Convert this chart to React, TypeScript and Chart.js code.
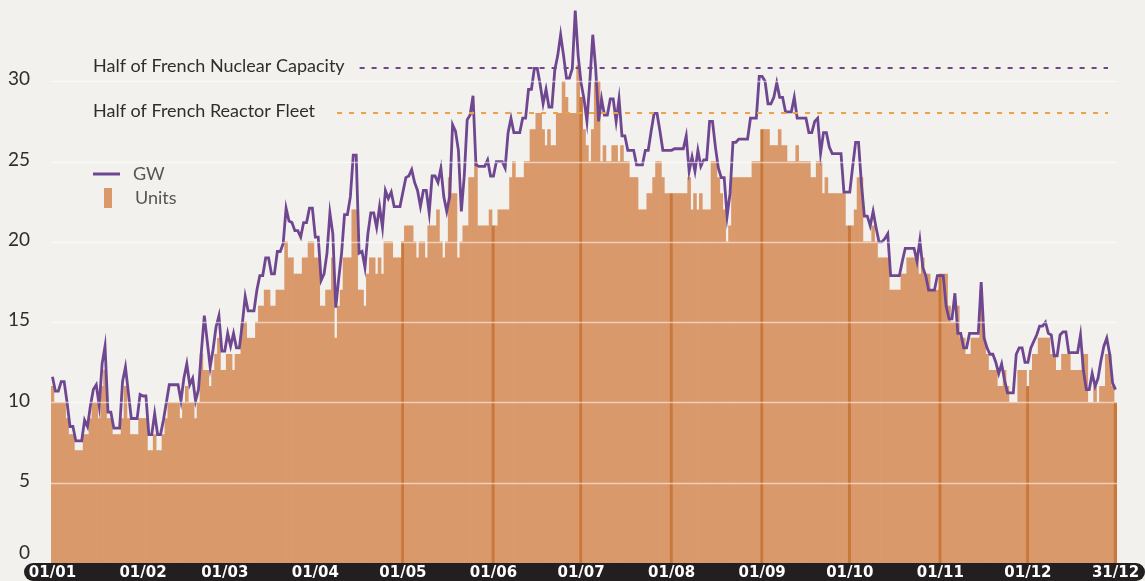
import React, { useEffect, useRef } from 'react';
import { Chart, registerables } from 'chart.js';

Chart.register(...registerables);

// ---- Data ----
const monthLengths = [31, 28, 31, 30, 31, 30, 31, 31, 30, 31, 30, 31];

const unitsJan = [11,10,10,10,10,9,8,8,7,7,7,8,8,9,10,10,9,11,12,9,9,8,8,8,9,11,9,8,8,8,9];
const unitsFeb = [9,9,7,7,8,7,7,8,9,10,10,10,10,9,10,11,10,10,9,10,13,12,12,11,12,13,14,12];
const unitsMar = [12,13,13,12,13,13,15,15,14,14,14,15,16,16,17,17,16,16,17,17,17,20,19,19,18,18,18,19,19,20,20];
const unitsApr = [19,19,16,16,17,17,19,14,16,17,19,19,19,22,22,17,17,16,18,19,19,18,19,18,20,20,20,19,19,19];
const unitsMay = [20,21,21,21,20,19,20,20,19,21,21,21,22,20,19,20,24,23,23,19,20,21,21,24,24,25,21,21,21,21,22];
const unitsJun = [21,21,22,22,22,22,24,25,24,24,24,25,25,27,27,28,28,27,26,27,26,26,28,28,30,29,28,28,28,31];
const unitsJul = [29,27,26,25,27,30,30,25,26,25,25,26,26,25,26,25,25,24,24,24,22,22,22,23,23,24,25,25,24,23,23];
const unitsAug = [23,23,23,23,23,23,24,22,23,22,23,22,22,22,25,25,24,23,22,20,21,24,24,24,24,24,24,24,25,25,25];
const unitsSep = [27,27,27,26,26,26,27,26,26,25,25,25,26,25,25,25,25,24,24,25,25,23,24,23,23,23,23,23,23,21];
const unitsOct = [21,21,22,24,24,20,20,20,21,20,19,19,19,19,17,17,17,17,18,18,19,19,19,19,18,19,18,18,17,17,17];
const unitsNov = [18,18,18,16,15,15,16,14,14,13,13,14,14,14,17,14,13,12,12,12,11,11,12,11,10,10,10,12,12,12];
const unitsDec = [11,12,13,13,14,14,14,14,13,13,12,12,13,13,13,12,12,12,12,13,13,10,10,11,10,11,11,13,13,11,10];

const gwJan = [11.6,10.7,10.7,11.3,11.3,10.0,8.5,8.5,7.6,7.6,7.6,8.9,8.5,9.8,10.8,11.1,9.8,12.4,13.5,9.4,9.4,8.4,8.4,8.4,11.3,12.2,10.6,9.0,9.0,9.0,10.5];
const gwFeb = [10.4,10.4,8.0,8.0,9.3,8.0,8.0,8.9,10.0,11.1,11.1,11.1,11.1,10.1,11.5,12.4,11.1,11.5,10.1,10.8,13.2,15.4,13.8,12.2,13.3,14.7,15.4,13.2];
const gwMar = [13.2,14.3,13.5,14.3,13.4,13.4,14.9,16.6,15.7,15.7,15.7,17.0,17.9,17.9,19.0,19.0,18.0,18.0,19.4,19.4,19.9,22.1,21.3,21.2,20.7,20.7,20.3,21.2,21.2,22.1,22.1];
const gwApr = [20.3,20.3,17.6,18.0,19.3,21.8,20.5,15.9,17.7,19.3,21.7,21.7,22.8,25.4,25.4,19.3,19.4,18.4,20.5,21.8,21.8,20.9,22.2,20.9,23.2,22.7,23.1,22.2,22.2,22.2];
const gwMay = [23.1,24.0,24.1,24.5,23.7,23.2,22.2,23.2,23.2,21.8,24.1,24.1,23.7,24.6,22.8,21.9,22.8,27.3,26.9,25.7,21.9,24.1,27.6,27.9,29.1,24.8,24.7,24.7,24.7,25.1,24.1];
const gwJun = [24.1,25.0,25.0,25.0,24.6,26.8,27.7,26.8,26.8,26.8,27.7,27.7,29.5,29.5,30.8,30.8,29.8,28.6,29.5,28.4,28.4,30.7,31.6,32.9,31.6,30.2,30.2,30.8,34.4,31.6];
const gwJul = [29.9,28.9,27.5,30.0,32.9,30.8,27.5,28.9,27.9,27.9,28.9,28.9,27.5,28.9,26.6,26.6,25.7,25.7,25.7,24.8,24.8,24.8,25.7,25.7,26.9,28.0,28.0,26.9,25.7,25.7,25.7];
const gwAug = [25.7,25.8,25.8,25.8,25.8,26.6,24.4,25.3,24.4,25.7,24.7,25.1,25.1,27.5,27.5,25.9,24.6,24.0,24.0,21.6,23.0,26.2,26.2,26.4,26.4,26.4,26.4,27.7,27.7,27.7,30.3];
const gwSep = [30.3,30.0,28.6,28.6,29.0,29.9,29.0,29.0,28.1,28.1,28.1,29.0,27.7,27.7,27.7,27.7,26.8,26.8,27.5,27.7,25.5,26.8,26.8,25.9,25.5,25.5,25.5,25.5,23.1,23.1];
const gwOct = [23.1,24.7,26.2,26.2,23.6,21.6,21.6,21.0,21.9,20.9,20.0,20.0,20.2,20.5,17.9,17.9,17.9,17.9,18.8,19.6,19.6,19.6,19.6,18.8,20.1,18.4,17.9,17.0,17.0,17.0,17.9];
const gwNov = [17.9,17.9,16.0,15.2,15.2,16.8,14.3,14.3,13.4,13.4,14.3,14.3,14.3,14.3,17.5,14.0,13.4,13.0,13.0,12.5,11.8,12.4,11.4,10.6,10.6,10.6,13.0,13.4,13.4,12.5];
const gwDec = [12.5,13.4,13.8,14.2,14.75,14.75,15.0,14.3,14.2,12.9,12.9,14.2,14.4,14.4,13.1,13.1,13.1,13.1,14.2,12.0,10.8,10.8,11.8,11.0,11.5,12.6,13.5,14.0,13.0,11.2,10.8];

const units = [...unitsJan, ...unitsFeb, ...unitsMar, ...unitsApr, ...unitsMay, ...unitsJun,
  ...unitsJul, ...unitsAug, ...unitsSep, ...unitsOct, ...unitsNov, ...unitsDec];
const gw = [...gwJan, ...gwFeb, ...gwMar, ...gwApr, ...gwMay, ...gwJun,
  ...gwJul, ...gwAug, ...gwSep, ...gwOct, ...gwNov, ...gwDec];

const tickLabels = ['01/01','01/02','01/03','01/04','01/05','01/06','01/07','01/08','01/09','01/10','01/11','01/12','31/12'];
const tickDays = [0, 31, 59, 90, 120, 151, 181, 212, 243, 273, 304, 334, 364];
const highlightedDays = [120, 151, 181, 212, 243, 273, 304, 334, 364];
const yTickValues = [0, 5, 10, 15, 20, 25, 30];

const refLabels = ['Half of French Nuclear Capacity', 'Half of French Reactor Fleet'];
const refValues = [30.8, 28];

// day categories "dd/mm"
const dayLabels: string[] = [];
monthLengths.forEach((len, m) => {
  for (let d = 1; d <= len; d++) {
    dayLabels.push(String(d).padStart(2, '0') + '/' + String(m + 1).padStart(2, '0'));
  }
});

// ---- Styles ----
const BG = '#f2f1ee';
const BAR = '#d9996b';
const BAR_DARK = '#c9783a';
const PURPLE = '#6f4790';
const ORANGE_DASH = '#eba24a';
const TEXT = '#2e2e2e';
const TEXT_FONT = 'Lato, "Noto Sans", sans-serif';

const decorPlugin = {
  id: 'decor',
  beforeDraw(chart: any) {
    const { ctx, width, height, chartArea } = chart;
    ctx.save();
    ctx.fillStyle = BG;
    ctx.fillRect(0, 0, width, height);
    // dark rounded x-axis band
    const x0 = 24, y0 = chartArea.bottom, w = width - 24, h = height - chartArea.bottom, r = h / 2;
    ctx.fillStyle = '#231f20';
    ctx.beginPath();
    ctx.moveTo(x0 + r, y0);
    ctx.lineTo(x0 + w - r, y0);
    ctx.arc(x0 + w - r, y0 + r, r, -Math.PI / 2, Math.PI / 2);
    ctx.lineTo(x0 + r, y0 + h);
    ctx.arc(x0 + r, y0 + r, r, Math.PI / 2, Math.PI * 1.5);
    ctx.closePath();
    ctx.fill();
    ctx.restore();
  },
  afterDatasetsDraw(chart: any) {
    const { ctx, chartArea } = chart;
    const ys = chart.scales.y;
    ctx.save();
    // white grid lines over the marks
    ctx.strokeStyle = 'rgba(255,255,255,0.55)';
    ctx.lineWidth = 1.5;
    yTickValues.forEach((v) => {
      if (v === 0) return;
      const y = Math.round(ys.getPixelForValue(v)) + 0.5;
      ctx.beginPath();
      ctx.moveTo(chartArea.left, y);
      ctx.lineTo(chartArea.right, y);
      ctx.stroke();
    });

    // reference lines and labels
    ctx.font = '18px ' + TEXT_FONT;
    ctx.textBaseline = 'middle';
    ctx.textAlign = 'left';
    const dashColors = [PURPLE, ORANGE_DASH];
    const gaps = [15, 22];
    refValues.forEach((v, i) => {
      const y = ys.getPixelForValue(v);
      ctx.fillStyle = TEXT;
      ctx.fillText(refLabels[i], 93, y - 2);
      const tw = ctx.measureText(refLabels[i]).width;
      ctx.strokeStyle = dashColors[i];
      ctx.lineWidth = 2;
      ctx.setLineDash([5, 7]);
      ctx.beginPath();
      ctx.moveTo(93 + tw + gaps[i], Math.round(y));
      ctx.lineTo(chartArea.right - 9, Math.round(y));
      ctx.stroke();
      ctx.setLineDash([]);
    });

    // legend
    ctx.strokeStyle = PURPLE;
    ctx.lineWidth = 3;
    ctx.beginPath();
    ctx.moveTo(93, 174);
    ctx.lineTo(120, 174);
    ctx.stroke();
    ctx.fillStyle = BAR;
    ctx.fillRect(104, 188, 8, 20);
    ctx.fillStyle = '#555555';
    ctx.font = '18px ' + TEXT_FONT;
    ctx.fillText('GW', 133, 174);
    ctx.fillText('Units', 135, 198);

    // y tick labels
    ctx.fillStyle = TEXT;
    ctx.font = '19px ' + TEXT_FONT;
    ctx.textAlign = 'right';
    yTickValues.forEach((v) => {
      let y = ys.getPixelForValue(v) - 2;
      if (y > chartArea.bottom - 10) y = chartArea.bottom - 10;
      ctx.fillText(String(v), 30, y);
    });
    ctx.restore();
  },
};

export default function App() {
  const ref = useRef<HTMLCanvasElement>(null);
  useEffect(() => {
    document.body.style.margin = '0';
    const chart = new Chart(ref.current as HTMLCanvasElement, {
      type: 'bar',
      data: {
        labels: dayLabels,
        datasets: [
          {
            type: 'line',
            label: 'GW',
            data: gw,
            borderColor: PURPLE,
            borderWidth: 2.8,
            pointRadius: 0,
            tension: 0,
            order: 0,
          } as any,
          {
            type: 'bar',
            label: 'Units',
            data: units,
            backgroundColor: units.map((_, i) => (highlightedDays.includes(i) ? BAR_DARK : BAR)),
            barPercentage: 1,
            categoryPercentage: 1,
            borderWidth: 0,
            order: 1,
          },
        ],
      },
      options: {
        responsive: false,
        animation: false,
        layout: { padding: { top: 1, right: 28, left: 0, bottom: 0 } },
        plugins: { legend: { display: false }, tooltip: { enabled: false } },
        scales: {
          x: {
            grid: { display: false, drawTicks: false },
            border: { display: false },
            ticks: {
              autoSkip: false,
              maxRotation: 0,
              minRotation: 0,
              color: '#ffffff',
              padding: 1,
              font: { family: '"DejaVu Sans", sans-serif', weight: 'bold', size: 15 },
              callback: (_v: any, i: number) => {
                const k = tickDays.indexOf(i);
                return k >= 0 ? tickLabels[k] : '';
              },
            },
            afterFit: (s: any) => {
              s.height = 18;
            },
          },
          y: {
            min: 0,
            max: 35,
            grid: { display: false },
            border: { display: false },
            ticks: { display: false, stepSize: 5 },
            afterFit: (s: any) => {
              s.width = 51;
            },
          },
        },
      },
      plugins: [decorPlugin],
    });
    return () => chart.destroy();
  }, []);
  return (
    <div style={{ width: 1145, height: 581 }}>
      <canvas ref={ref} width={1145} height={581} style={{ display: 'block' }} />
    </div>
  );
}
